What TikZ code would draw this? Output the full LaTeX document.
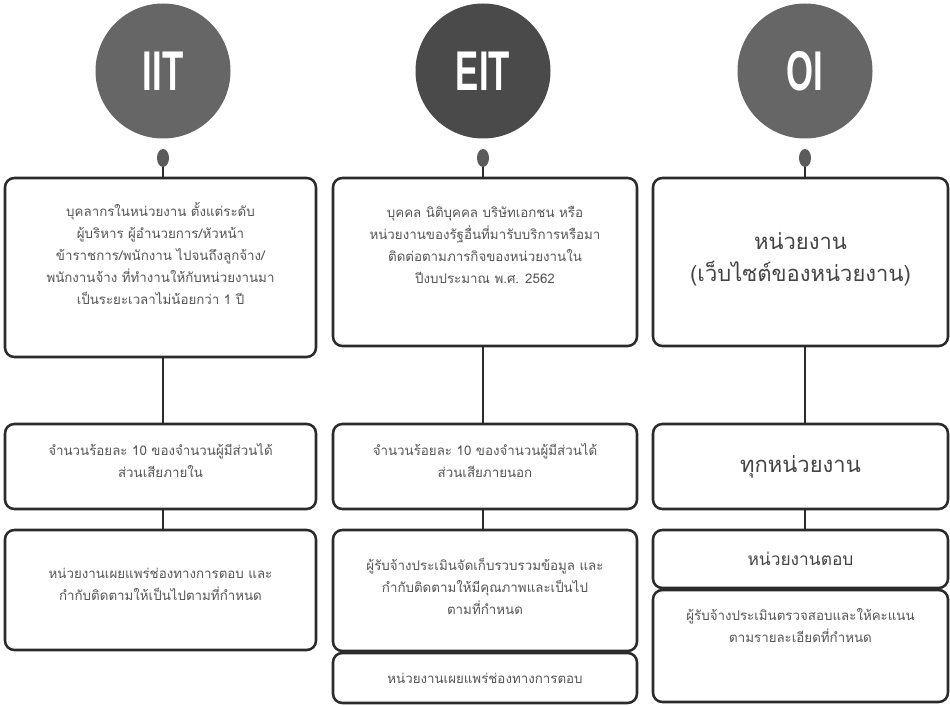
\documentclass[tikz,border=0pt]{standalone}
\usepackage{fontspec}
\newfontfamily\thai[Script=Thai]{Loma}
\newfontfamily\titlefont[FakeStretch=0.62]{Liberation Sans}
\usetikzlibrary{shapes.geometric}
\definecolor{edge}{HTML}{2B2B2B}
\definecolor{txtgray}{HTML}{555555}
\definecolor{bigtxt}{HTML}{444444}
\definecolor{disc}{HTML}{666666}
\definecolor{discdark}{HTML}{4A4A4A}
\newcommand\pxl[1]{#1*0.75pt}
\tikzset{
  box/.style={draw=edge, line width=1.9pt, rounded corners=7pt, fill=white, inner sep=0pt},
  txt/.style={align=center, text=txtgray, font=\thai\fontsize{10}{16.5}\selectfont, inner sep=0pt},
  bigt/.style={align=center, text=bigtxt, inner sep=0pt},
  conn/.style={draw=edge, line width=1.9pt},
  title/.style={circle, minimum size=\pxl{135}, inner sep=0pt, text=white, font=\titlefont\bfseries\fontsize{42}{42}\selectfont},
  dot/.style={ellipse, minimum width=\pxl{12}, minimum height=\pxl{18}, inner sep=0pt, fill=disc!90!black}
}
\begin{document}
\begin{tikzpicture}[x=0.75pt,y=-0.75pt]
\useasboundingbox (0,0) rectangle (950,706);
\fill[white] (0,0) rectangle (950,706);

% title discs
\node[title, fill=disc] (tiit) at (163,71) {IIT};
\node[title, fill=discdark] (teit) at (483,71) {EIT};
\node[title, fill=disc] (toi) at (805,71) {OI};

\node[dot] (diit) at (163,158) {};
\node[dot] (deit) at (483,158) {};
\node[dot] (doi) at (805,158) {};

% row 1
\node[box, minimum width=\pxl{311}, minimum height=\pxl{179}] (iit1) at (160.5,267.5) {};
\node[box, minimum width=\pxl{304}, minimum height=\pxl{168}] (eit1) at (485,262) {};
\node[box, minimum width=\pxl{295}, minimum height=\pxl{168}] (oi1) at (800.5,262) {};

% row 2
\node[box, minimum width=\pxl{311}, minimum height=\pxl{85}] (iit2) at (160.5,466.5) {};
\node[box, minimum width=\pxl{304}, minimum height=\pxl{85}] (eit2) at (485,466.5) {};
\node[box, minimum width=\pxl{295}, minimum height=\pxl{85}] (oi2) at (800.5,466.5) {};

% row 3
\node[box, minimum width=\pxl{311}, minimum height=\pxl{120}] (iit3) at (160.5,590) {};
\node[box, minimum width=\pxl{304}, minimum height=\pxl{121}] (eit3) at (485,590.5) {};
\node[box, minimum width=\pxl{304}, minimum height=\pxl{50}] (eit4) at (485,678) {};
\node[box, minimum width=\pxl{295}, minimum height=\pxl{58}] (oi3) at (800.5,559) {};
\node[box, minimum width=\pxl{295}, minimum height=\pxl{112}] (oi4) at (800.5,646) {};

% connectors
\draw[conn] (diit.south) -- (diit.south |- iit1.north);
\draw[conn] (deit.south) -- (deit.south |- eit1.north);
\draw[conn] (doi.south) -- (doi.south |- oi1.north);
\draw[conn] (iit1.south -| diit) -- (iit2.north -| diit);
\draw[conn] (eit1.south -| deit) -- (eit2.north -| deit);
\draw[conn] (oi1.south -| doi) -- (oi2.north -| doi);
\draw[conn] (iit2.south -| diit) -- (iit3.north -| diit);
\draw[conn] (eit2.south -| deit) -- (eit3.north -| deit);
\draw[conn] (oi2.south -| doi) -- (oi3.north -| doi);

% texts
\node[txt] (liit1) at ([yshift=\pxl{14}]iit1.center) {บุคลากรในหน่วยงาน ตั้งแต่ระดับ\\ผู้บริหาร ผู้อำนวยการ/หัวหน้า\\ข้าราชการ/พนักงาน ไปจนถึงลูกจ้าง/\\พนักงานจ้าง ที่ทำงานให้กับหน่วยงานมา\\เป็นระยะเวลาไม่น้อยกว่า 1 ปี};
\node[txt] (leit1) at ([yshift=\pxl{17}]eit1.center) {บุคคล นิติบุคคล บริษัทเอกชน หรือ\\หน่วยงานของรัฐอื่นที่มารับบริการหรือมา\\ติดต่อตามภารกิจของหน่วยงานใน\\ปีงบประมาณ พ.ศ. 2562};
\node[bigt, font=\thai\fontsize{16.5}{24}\selectfont] (loi1) at ([yshift=\pxl{3}]oi1.center) {หน่วยงาน\\(เว็บไซต์ของหน่วยงาน)};

\node[txt] (liit2) at ([yshift=\pxl{6}]iit2.center) {จำนวนร้อยละ 10 ของจำนวนผู้มีส่วนได้\\ส่วนเสียภายใน};
\node[txt] (leit2) at ([yshift=\pxl{6}]eit2.center) {จำนวนร้อยละ 10 ของจำนวนผู้มีส่วนได้\\ส่วนเสียภายนอก};
\node[bigt, font=\thai\fontsize{16.5}{20}\selectfont] (loi2) at (oi2.center) {ทุกหน่วยงาน};

\node[txt] (liit3) at ([yshift=\pxl{6}]iit3.center) {หน่วยงานเผยแพร่ช่องทางการตอบ และ\\กำกับติดตามให้เป็นไปตามที่กำหนด};
\node[txt] (leit3) at ([yshift=\pxl{4}]eit3.center) {ผู้รับจ้างประเมินจัดเก็บรวบรวมข้อมูล และ\\กำกับติดตามให้มีคุณภาพและเป็นไป\\ตามที่กำหนด};
\node[txt] (leit4) at (eit4.center) {หน่วยงานเผยแพร่ช่องทางการตอบ};
\node[bigt, font=\thai\fontsize{13}{16}\selectfont] (loi3) at (oi3.center) {หน่วยงานตอบ};
\node[txt] (loi4) at ([yshift=\pxl{20}]oi4.center) {ผู้รับจ้างประเมินตรวจสอบและให้คะแนน\\ตามรายละเอียดที่กำหนด};
\end{tikzpicture}
\end{document}
